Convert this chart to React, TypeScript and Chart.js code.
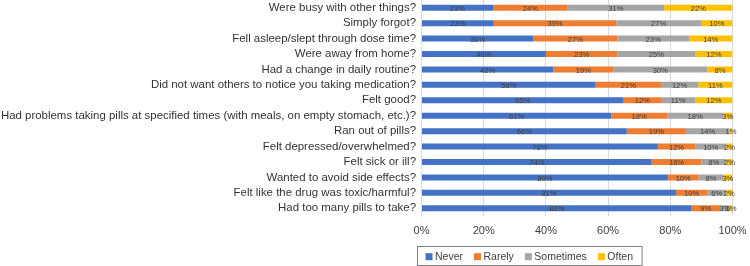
import React, { useEffect, useRef } from "react";
import { Chart, registerables } from "chart.js";

Chart.register(...registerables);

const categories = [
  "Were busy with other things?",
  "Simply forgot?",
  "Fell asleep/slept through dose time?",
  "Were away from home?",
  "Had a change in daily routine?",
  "Did not want others to notice you taking medication?",
  "Felt good?",
  "Had problems taking pills at specified times (with meals, on empty stomach, etc.)?",
  "Ran out of pills?",
  "Felt depressed/overwhelmed?",
  "Felt sick or ill?",
  "Wanted to avoid side effects?",
  "Felt like the drug was toxic/harmful?",
  "Had too many pills to take?",
];

const seriesNames = ["Never", "Rarely", "Sometimes", "Often"];
const never = [23, 23, 36, 40, 42, 56, 65, 61, 66, 76, 74, 80, 81, 86];
const rarely = [24, 39, 27, 23, 19, 21, 12, 18, 19, 12, 16, 10, 10, 9];
const sometimes = [31, 27, 23, 25, 30, 12, 11, 18, 14, 10, 8, 8, 6, 3];
const often = [22, 10, 14, 12, 8, 11, 12, 3, 1, 2, 2, 3, 2, 1];
const seriesColors = ["#4472C4", "#ED7D31", "#A5A5A5", "#FFC000"];
const xTickValues = [0, 20, 40, 60, 80, 100];

const FONT = '"Liberation Sans", Arial, Helvetica, sans-serif';

export default function App() {
  const ref = useRef<HTMLCanvasElement | null>(null);

  useEffect(() => {
    if (!ref.current) return;
    const raw = [never, rarely, sometimes, often];
    const totals = categories.map((_, i) => raw.reduce((s, arr) => s + arr[i], 0));

    const labelPlugin = {
      id: "segLabels",
      afterDatasetsDraw(chart: any) {
        const ctx = chart.ctx;
        ctx.save();
        ctx.font = `7.6px ${FONT}`;
        ctx.fillStyle = "#404040";
        ctx.textAlign = "center";
        ctx.textBaseline = "middle";
        chart.data.datasets.forEach((_ds: any, di: number) => {
          const meta = chart.getDatasetMeta(di);
          meta.data.forEach((bar: any, i: number) => {
            const p = bar.getProps(["x", "y", "base"], true);
            ctx.fillText(raw[di][i] + "%", (p.x + p.base) / 2, p.y + 1);
          });
        });
        ctx.restore();
      },
    };

    const legendPlugin = {
      id: "boxLegend",
      afterDraw(chart: any) {
        const ctx = chart.ctx;
        ctx.save();
        ctx.font = `10.5px ${FONT}`;
        const left = 417.5;
        const top = 246.5;
        const h = 19;
        const cy = 256.7;
        let x = left + 8;
        const items: { x: number; c: string; t: string }[] = [];
        seriesNames.forEach((name, i) => {
          items.push({ x, c: seriesColors[i], t: name });
          x += 9.5 + ctx.measureText(name).width + 11;
        });
        const right = x - 11 + 9;
        ctx.strokeStyle = "#7f7f7f";
        ctx.lineWidth = 1;
        ctx.strokeRect(left, top, right - left, h);
        ctx.textBaseline = "middle";
        ctx.textAlign = "left";
        items.forEach((it) => {
          ctx.fillStyle = it.c;
          ctx.fillRect(it.x, cy - 3.5, 7, 7);
          ctx.fillStyle = "#404040";
          ctx.fillText(it.t, it.x + 9.5, cy);
        });
        ctx.restore();
      },
    };

    const chart = new Chart(ref.current, {
      type: "bar",
      data: {
        labels: categories,
        datasets: raw.map((arr, di) => ({
          label: seriesNames[di],
          data: arr.map((v, i) => (v / totals[i]) * 100),
          backgroundColor: seriesColors[di],
          borderWidth: 0,
          barPercentage: 0.39,
          categoryPercentage: 1,
        })),
      },
      options: {
        indexAxis: "y",
        animation: false,
        responsive: false,
        layout: { padding: { left: 0, top: 0, right: 17.5, bottom: 0 } },
        plugins: {
          legend: { display: false },
          tooltip: { enabled: false },
        },
        scales: {
          x: {
            stacked: true,
            min: 0,
            max: 100,
            afterBuildTicks: (s: any) => {
              s.ticks = xTickValues.map((v) => ({ value: v }));
            },
            afterFit: (s: any) => {
              s.height = 50;
              s.paddingLeft = 0;
              s.paddingRight = 0;
            },
            ticks: {
              callback: (v: any) => v + "%",
              font: { family: FONT, size: 11 },
              color: "#404040",
              padding: 8.5,
              maxRotation: 0,
            },
            grid: { color: "#d9d9d9", drawTicks: false },
            border: { display: false },
          },
          y: {
            stacked: true,
            afterFit: (s: any) => {
              s.width = 421.5;
              s.paddingTop = 0;
              s.paddingBottom = 0;
            },
            ticks: {
              font: { family: FONT, size: 11.45 },
              color: "#333333",
              padding: 5.5,
              autoSkip: false,
            },
            grid: { display: false, drawTicks: false },
            border: { display: true, color: "#d9d9d9" },
          },
        },
      },
      plugins: [labelPlugin, legendPlugin],
    } as any);

    return () => chart.destroy();
  }, []);

  return (
    <div style={{ position: "absolute", left: 0, top: 0, width: 750, height: 266 }}>
      <canvas ref={ref} width={750} height={266} />
    </div>
  );
}
